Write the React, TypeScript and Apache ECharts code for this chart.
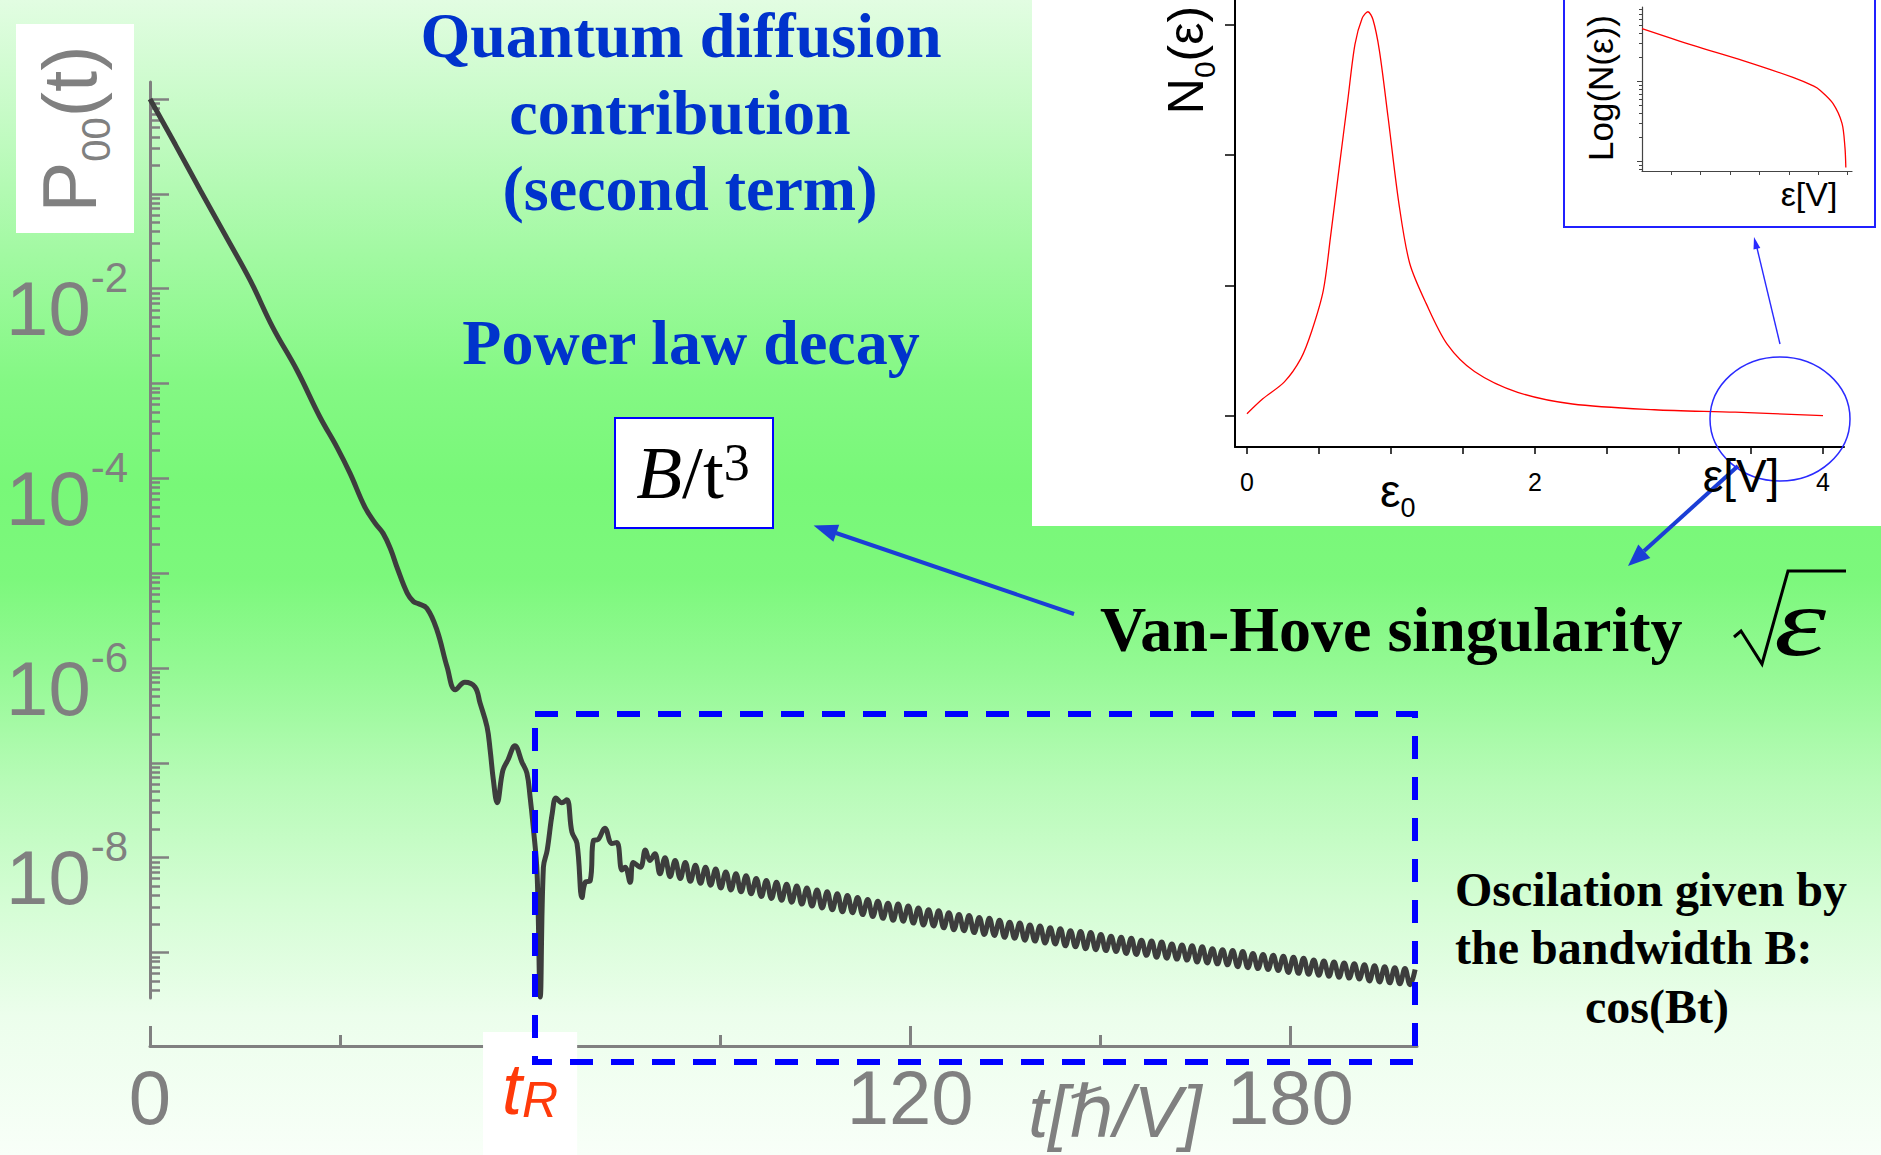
import React, { useEffect, useRef } from "react";
import * as echarts from "echarts";

const GRAY = "#808080";
const SANS = "'Liberation Sans', Arial, Helvetica, 'DejaVu Sans', sans-serif";
const SERIF = "'Liberation Serif', 'Times New Roman', 'DejaVu Serif', serif";
const RED_T = "#ff3a0a";
const TITLE_BLUE = "#0033cc";
const ARROW_BLUE = "#1b3ed6";
const CURVE = "#3d3d3d";

// ---- main curve: t [hbar/V] and log10 P00(t) ----
const earlyT = [
  0, 4, 8, 12, 15.8, 19.4, 23.2, 26.8, 29.5, 31.6, 33.9, 35.5, 36.8, 38.0, 39.0, 40.6, 41.6, 42.3, 43.7, 45.3,
  46.9, 48.2, 49.7, 51.3, 52.1, 53.2, 53.7, 54.2, 54.8, 55.7, 56.5, 57.6, 58.7, 59.5, 60.0, 60.5, 61.1, 61.6, 62.1, 62.7,
  63.5, 64.1, 65.0, 65.8, 66.6, 67.4, 68.2, 68.7, 69.5, 70.0, 70.7, 71.8, 72.9, 73.7, 74.5, 75.0, 75.8, 76.3, 77.4, 78.2,
  78.9, 79.7,
];
const earlyLogP = [
  0, -0.48, -0.97, -1.45, -1.91, -2.41, -2.86, -3.35, -3.67, -3.95, -4.3, -4.47, -4.58, -4.75, -4.94, -5.21, -5.3, -5.32, -5.37, -5.6,
  -5.99, -6.23, -6.15, -6.2, -6.37, -6.62, -6.87, -7.18, -7.42, -7.08, -6.97, -6.82, -6.99, -7.11, -7.36, -7.68, -8.16, -9.47, -8.1, -7.92,
  -7.53, -7.37, -7.42, -7.39, -7.73, -7.85, -8.42, -8.26, -8.24, -7.82, -7.81, -7.69, -7.85, -7.84, -8.13, -8.1, -8.26, -8.05, -8.1, -7.92,
  -8.03, -7.96,
];
const tailT = [
  80.5, 81.3, 82.1, 82.9, 83.7, 84.5, 85.3, 86.1, 86.9, 87.7,
  88.5, 89.3, 90.1, 90.9, 91.7, 92.5, 93.3, 94.1, 94.9, 95.7,
  96.5, 97.3, 98.1, 98.9, 99.7, 100.5, 101.3, 102.1, 102.9, 103.7,
  104.5, 105.3, 106.1, 106.9, 107.7, 108.5, 109.3, 110.1, 110.9, 111.7,
  112.5, 113.3, 114.1, 114.9, 115.7, 116.5, 117.3, 118.1, 118.9, 119.7,
  120.5, 121.3, 122.1, 122.9, 123.7, 124.5, 125.3, 126.1, 126.9, 127.7,
  128.5, 129.3, 130.1, 130.9, 131.7, 132.5, 133.3, 134.1, 134.9, 135.7,
  136.5, 137.3, 138.1, 138.9, 139.7, 140.5, 141.3, 142.1, 142.9, 143.7,
  144.5, 145.3, 146.1, 146.9, 147.7, 148.5, 149.3, 150.1, 150.9, 151.7,
  152.5, 153.3, 154.1, 154.9, 155.7, 156.5, 157.3, 158.1, 158.9, 159.7,
  160.5, 161.3, 162.1, 162.9, 163.7, 164.5, 165.3, 166.1, 166.9, 167.7,
  168.5, 169.3, 170.1, 170.9, 171.7, 172.5, 173.3, 174.1, 174.9, 175.7,
  176.5, 177.3, 178.1, 178.9, 179.7, 180.5, 181.3, 182.1, 182.9, 183.7,
  184.5, 185.3, 186.1, 186.9, 187.7, 188.5, 189.3, 190.1, 190.9, 191.7,
  192.5, 193.3, 194.1, 194.9, 195.7, 196.5, 197.3, 198.1, 198.9, 199.7,
];
const tailLogP = [
  -8.17, -8.0, -8.2, -8.03, -8.22, -8.05, -8.25, -8.08, -8.27, -8.1,
  -8.29, -8.12, -8.32, -8.15, -8.34, -8.17, -8.36, -8.19, -8.38, -8.22,
  -8.41, -8.24, -8.43, -8.26, -8.45, -8.28, -8.47, -8.3, -8.49, -8.32,
  -8.51, -8.34, -8.53, -8.36, -8.55, -8.38, -8.57, -8.4, -8.58, -8.42,
  -8.6, -8.44, -8.62, -8.46, -8.64, -8.48, -8.66, -8.49, -8.67, -8.51,
  -8.69, -8.53, -8.71, -8.55, -8.72, -8.56, -8.74, -8.58, -8.76, -8.6,
  -8.77, -8.61, -8.79, -8.63, -8.81, -8.64, -8.82, -8.66, -8.84, -8.68,
  -8.85, -8.69, -8.87, -8.71, -8.88, -8.72, -8.9, -8.74, -8.91, -8.75,
  -8.93, -8.77, -8.94, -8.78, -8.96, -8.79, -8.97, -8.81, -8.98, -8.83,
  -8.99, -8.84, -9.01, -8.85, -9.02, -8.87, -9.03, -8.88, -9.05, -8.89,
  -9.06, -8.91, -9.07, -8.92, -9.08, -8.93, -9.1, -8.94, -9.11, -8.96,
  -9.12, -8.97, -9.13, -8.98, -9.15, -8.99, -9.16, -9.01, -9.17, -9.02,
  -9.18, -9.03, -9.19, -9.04, -9.21, -9.05, -9.22, -9.06, -9.23, -9.08,
  -9.24, -9.09, -9.25, -9.1, -9.26, -9.11, -9.27, -9.12, -9.28, -9.13,
  -9.3, -9.14, -9.31, -9.15, -9.32, -9.16, -9.33, -9.17, -9.34, -9.18,
];

// main axes
const xLabelValues = [0, 120, 180];
const xMajorTickValues = [0, 120, 180];
const xMinorTickValues = [30, 60, 90, 150];
const tRValue = [60];
const yMajorExps = [0, -1, -2, -3, -4, -5, -6, -7, -8, -9];
const yLabelExps = [-2, -4, -6, -8];

// inset: density of states N0(eps)
const dosEps = [0, 0.11, 0.26, 0.375, 0.45, 0.53, 0.58, 0.64, 0.7, 0.75, 0.8, 0.84, 0.875, 0.92, 0.98, 1.055, 1.13, 1.245, 1.39, 1.58, 1.88, 2.26, 2.83, 3.39, 4.0];
const dosN = [0.015, 0.13, 0.26, 0.44, 0.65, 0.96, 1.37, 1.9, 2.42, 2.85, 3.05, 3.1, 3.04, 2.8, 2.29, 1.63, 1.17, 0.86, 0.55, 0.34, 0.18, 0.09, 0.046, 0.027, 0.0];
const dosTickX = [0, 0.5, 1, 1.5, 2, 2.5, 3, 3.5, 4];
const dosLabelX = [0, 2, 4];
const dosTickY = [0, 1, 2, 3];

// nested inset: log N near band edge
const edgeX = [0, 1.74, 3.44, 5.14, 5.85, 6.06, 6.5, 6.81, 6.91, 6.94];
const edgeLogN = [0.66, 0.45, 0.26, 0.05, -0.06, -0.11, -0.275, -0.525, -0.825, -1.075];
const edgeTickX = [1, 2, 3, 4, 5, 6, 7];
const edgeMajorY = [-1, 0];

function logMinor(lo: number, hi: number): number[] {
  const out: number[] = [];
  for (let n = -11; n <= 1; n++) {
    for (let k = 2; k <= 9; k++) {
      const v = n + Math.log10(k);
      if (v >= lo && v <= hi) out.push(v);
    }
  }
  return out;
}

const MAIN_MIN = -9.48;
const MAIN_MAX = 0.18;

function buildOption(): any {
  const allLog = earlyLogP.concat(tailLogP);
  const mainData = earlyT.concat(tailT).map((t, i) => [t, allLog[i]]);
  const dosData = dosEps.map((e, i) => [e, dosN[i]]);
  const edgeData = edgeX.map((e, i) => [e, edgeLogN[i]]);

  const txt = (x: number, y: number, text: string, s: any, extra: any = {}) => ({
    type: "text",
    x,
    y,
    z: 20,
    ...extra,
    style: {
      text,
      fill: "#000",
      fontFamily: SERIF,
      textAlign: "center",
      align: "center",
      textVerticalAlign: "middle",
      verticalAlign: "middle",
      ...s,
    },
  });

  const arrowHead = (pts: number[][], color: string) => ({
    type: "polygon",
    z: 20,
    shape: { points: pts },
    style: { fill: color },
  });

  const graphics: any[] = [
    // inset backgrounds
    { type: "rect", z: -10, silent: true, shape: { x: 1032, y: 0, width: 849, height: 526 }, style: { fill: "#ffffff" } },
    { type: "rect", z: -9, silent: true, shape: { x: 1564, y: -3, width: 311, height: 230 }, style: { fill: "#ffffff", stroke: "#2020ff", lineWidth: 2 } },
    // P00(t) label
    { type: "rect", z: 5, shape: { x: 16, y: 24, width: 118, height: 209 }, style: { fill: "#ffffff" } },
    txt(69, 129, "{p|P}{s|00}{p|(t)}", {
      fontFamily: SANS,
      fill: GRAY,
      rich: {
        p: { fontSize: 76, lineHeight: 94, fill: GRAY, fontFamily: SANS },
        s: { fontSize: 40, lineHeight: 40, fill: GRAY, fontFamily: SANS, verticalAlign: "bottom" },
      },
    }, { rotation: Math.PI / 2 }),
    // titles
    txt(681, 35, "Quantum diffusion", { fill: TITLE_BLUE, fontSize: 64, fontWeight: "bold" }),
    txt(680, 112, "contribution", { fill: TITLE_BLUE, fontSize: 64, fontWeight: "bold" }),
    txt(690, 188, "(second term)", { fill: TITLE_BLUE, fontSize: 64, fontWeight: "bold" }),
    txt(691, 342, "Power law decay", { fill: TITLE_BLUE, fontSize: 64, fontWeight: "bold" }),
    // B/t^3 box
    { type: "rect", z: 19, shape: { x: 615, y: 418, width: 158, height: 110 }, style: { fill: "#ffffff", stroke: "#0000ff", lineWidth: 2 } },
    txt(693, 472, "{i|B}{r|/t}{s|3}", {
      rich: {
        i: { fontSize: 75, lineHeight: 72, fontStyle: "italic", fontFamily: SERIF, fill: "#000" },
        r: { fontSize: 75, lineHeight: 72, fontFamily: SERIF, fill: "#000" },
        s: { fontSize: 52, lineHeight: 48, fontFamily: SERIF, fill: "#000", verticalAlign: "top" },
      },
    }),
    // Van-Hove
    txt(1100, 629, "Van-Hove singularity", { fontSize: 64, fontWeight: "bold", textAlign: "left", align: "left" }),
    {
      type: "polyline",
      z: 20,
      shape: { points: [[1734, 637], [1741, 631], [1762, 664], [1788, 571], [1846, 571]] },
      style: { stroke: "#000", lineWidth: 3, fill: "none" },
    },
    txt(1800, 622, "ε", { fontSize: 98, fontStyle: "italic" }, { scaleX: 1.35 }),
    // oscillation text
    txt(1455, 889, "Oscilation given by", { fontSize: 48, fontWeight: "bold", textAlign: "left", align: "left" }),
    txt(1455, 947, "the bandwidth B:", { fontSize: 48, fontWeight: "bold", textAlign: "left", align: "left" }),
    txt(1657, 1006, "cos(Bt)", { fontSize: 48, fontWeight: "bold" }),
    // x-axis name
    txt(1115, 1112, "t[ℏ/V]", { fontSize: 72, fontStyle: "italic", fontFamily: SANS, fill: GRAY }),
    // dashed window
    {
      type: "rect",
      z: 10,
      shape: { x: 535, y: 714, width: 880, height: 348 },
      style: { fill: "none", stroke: "#0000ff", lineWidth: 6, lineDash: [23, 18] },
    },
    // arrow to B/t^3
    { type: "line", z: 20, shape: { x1: 1074, y1: 614, x2: 836, y2: 533 }, style: { stroke: ARROW_BLUE, lineWidth: 4 } },
    arrowHead([[813.6, 525.6], [839.2, 524.8], [833.4, 541.8]], ARROW_BLUE),
    // arrow from inset towards Van-Hove
    { type: "line", z: 20, shape: { x1: 1738, y1: 466, x2: 1644, y2: 551 }, style: { stroke: ARROW_BLUE, lineWidth: 4 } },
    arrowHead([[1628, 566], [1650.3, 558], [1638.3, 544.6]], ARROW_BLUE),
    // ellipse and thin arrow
    { type: "ellipse", z: 20, shape: { cx: 1780, cy: 419, rx: 70, ry: 62 }, style: { fill: "none", stroke: "#2a2aff", lineWidth: 1.5 } },
    { type: "line", z: 20, shape: { x1: 1780, y1: 344, x2: 1757, y2: 248 }, style: { stroke: "#2a2aff", lineWidth: 1.4 } },
    arrowHead([[1754, 237], [1760.3, 248], [1753.5, 249.5]], "#2a2aff"),
    // inset texts
    txt(1186, 60, "{n|N}{s|0}{n|(ε)}", {
      fontFamily: SANS,
      rich: {
        n: { fontSize: 50, lineHeight: 66, fontFamily: SANS, fill: "#000" },
        s: { fontSize: 30, lineHeight: 30, fontFamily: SANS, fill: "#000", verticalAlign: "bottom" },
      },
    }, { rotation: Math.PI / 2 }),
    txt(1380, 491, "{e|ε}{s|0}", {
      textAlign: "left",
      align: "left",
      fontFamily: SANS,
      rich: {
        e: { fontSize: 46, lineHeight: 60, fontFamily: SANS, fill: "#000" },
        s: { fontSize: 27, lineHeight: 27, fontFamily: SANS, fill: "#000", verticalAlign: "bottom" },
      },
    }),
    txt(1741, 476, "ε[V]", { fontSize: 46, fontFamily: SANS }),
    txt(1600, 88, "Log(N(ε))", { fontSize: 35, fontFamily: SANS }, { rotation: Math.PI / 2 }),
    txt(1809, 194, "ε[V]", { fontSize: 34, fontFamily: SANS }),
  ];

  const noSplit = { show: false };

  return {
    animation: false,
    backgroundColor: "transparent",
    grid: [
      { left: 150, top: 82, width: 1267, height: 916, outerBoundsMode: "none", containLabel: false },
      { left: 1235, top: 0, width: 609, height: 447, outerBoundsMode: "none", containLabel: false },
      { left: 1642, top: 7, width: 210, height: 164, outerBoundsMode: "none", containLabel: false },
    ],
    xAxis: [
      {
        gridIndex: 0,
        type: "value",
        position: "bottom",
        min: 0,
        max: 200,
        offset: 48,
        axisLine: { show: true, onZero: false, lineStyle: { color: GRAY, width: 3 } },
        axisTick: { show: true, customValues: xMinorTickValues, inside: true, length: 11, lineStyle: { color: GRAY, width: 3 } },
        axisLabel: { show: true, customValues: xLabelValues, color: GRAY, fontSize: 76, fontFamily: SANS, margin: 13 },
        splitLine: noSplit,
      },
      {
        gridIndex: 0,
        type: "value",
        position: "bottom",
        min: 0,
        max: 200,
        offset: 48,
        z: 1,
        axisLine: { show: false, onZero: false },
        axisTick: { show: true, customValues: xMajorTickValues, inside: true, length: 20, lineStyle: { color: GRAY, width: 3 } },
        axisLabel: {
          show: true,
          customValues: tRValue,
          formatter: () => "{t|t}{r|R}",
          margin: -14,
          backgroundColor: "#ffffff",
          padding: [21, 19, 34, 19],
          rich: {
            t: { fontSize: 72, lineHeight: 72, fontStyle: "italic", fontFamily: SANS, color: RED_T, verticalAlign: "top" },
            r: { fontSize: 50, lineHeight: 50, fontStyle: "italic", fontFamily: SANS, color: RED_T, verticalAlign: "bottom", padding: [38, 0, 0, 0] },
          },
        },
        splitLine: noSplit,
      },
      {
        gridIndex: 1,
        type: "value",
        position: "bottom",
        min: -0.083,
        max: 4.146,
        axisLine: { show: true, onZero: false, lineStyle: { color: "#000", width: 2 } },
        axisTick: { show: true, customValues: dosTickX, inside: false, length: 7, lineStyle: { color: "#000", width: 1.5 } },
        axisLabel: { show: true, customValues: dosLabelX, color: "#000", fontSize: 25, fontFamily: SANS, margin: 22 },
        splitLine: noSplit,
      },
      {
        gridIndex: 2,
        type: "value",
        position: "bottom",
        min: 0,
        max: 7.15,
        axisLine: { show: true, onZero: false, lineStyle: { color: "#444", width: 1.2 } },
        axisTick: { show: true, customValues: edgeTickX, inside: false, length: 4, lineStyle: { color: "#444", width: 1 } },
        axisLabel: { show: false },
        splitLine: noSplit,
      },
    ],
    yAxis: [
      {
        gridIndex: 0,
        type: "value",
        position: "left",
        min: MAIN_MIN,
        max: MAIN_MAX,
        axisLine: { show: true, onZero: false, lineStyle: { color: GRAY, width: 3 } },
        axisTick: { show: true, customValues: yMajorExps, inside: true, length: 19, lineStyle: { color: GRAY, width: 2.5 } },
        axisLabel: {
          show: true,
          customValues: yLabelExps,
          formatter: (v: number) => `{b|10}{s|${Math.round(v)}}`,
          margin: 22,
          padding: [40, 0, 0, 0],
          rich: {
            b: { fontSize: 76, lineHeight: 104, color: GRAY, fontFamily: SANS },
            s: { fontSize: 42, lineHeight: 42, color: GRAY, fontFamily: SANS, verticalAlign: "top" },
          },
        },
        splitLine: noSplit,
      },
      {
        gridIndex: 0,
        type: "value",
        position: "left",
        min: MAIN_MIN,
        max: MAIN_MAX,
        axisLine: { show: false, onZero: false },
        axisTick: { show: true, customValues: logMinor(MAIN_MIN, MAIN_MAX), inside: true, length: 10, lineStyle: { color: GRAY, width: 2.5 } },
        axisLabel: { show: false },
        splitLine: noSplit,
      },
      {
        gridIndex: 1,
        type: "value",
        position: "left",
        min: -0.24,
        max: 3.19,
        axisLine: { show: true, onZero: false, lineStyle: { color: "#000", width: 2 } },
        axisTick: { show: true, customValues: dosTickY, inside: false, length: 10, lineStyle: { color: "#000", width: 1.5 } },
        axisLabel: { show: false },
        splitLine: noSplit,
      },
      {
        gridIndex: 2,
        type: "value",
        position: "left",
        min: -1.12,
        max: 0.93,
        axisLine: { show: true, onZero: false, lineStyle: { color: "#444", width: 1.2 } },
        axisTick: { show: true, customValues: edgeMajorY, inside: false, length: 5, lineStyle: { color: "#444", width: 1 } },
        axisLabel: { show: false },
        splitLine: noSplit,
      },
      {
        gridIndex: 2,
        type: "value",
        position: "left",
        min: -1.12,
        max: 0.93,
        axisLine: { show: false, onZero: false },
        axisTick: { show: true, customValues: logMinor(-1.12, 0.93), inside: false, length: 3, lineStyle: { color: "#444", width: 1 } },
        axisLabel: { show: false },
        splitLine: noSplit,
      },
    ],
    series: [
      {
        type: "line",
        xAxisIndex: 0,
        yAxisIndex: 0,
        data: mainData,
        showSymbol: false,
        symbol: "none",
        smooth: 0.4,
        lineStyle: { color: CURVE, width: 5 },
        z: 5,
      },
      {
        type: "line",
        xAxisIndex: 2,
        yAxisIndex: 2,
        data: dosData,
        symbol: "none",
        smooth: 0.3,
        lineStyle: { color: "#ff0000", width: 1.3 },
      },
      {
        type: "line",
        xAxisIndex: 3,
        yAxisIndex: 3,
        data: edgeData,
        symbol: "none",
        smooth: 0.3,
        lineStyle: { color: "#ff0000", width: 1.3 },
      },
    ],
    graphic: { elements: graphics },
  };
}

export default function App() {
  const ref = useRef<HTMLDivElement>(null);
  useEffect(() => {
    if (!ref.current) return;
    const chart = echarts.init(ref.current, null, { renderer: "svg" });
    chart.setOption(buildOption());
    return () => chart.dispose();
  }, []);
  return (
    <div
      ref={ref}
      style={{
        position: "fixed",
        left: 0,
        top: 0,
        width: 1881,
        height: 1155,
        background:
          "linear-gradient(to bottom, #e2fde2 0%, #c6fbc6 10%, #a2f9a2 22%, #84f884 33%, #78f878 42%, #7cf87c 50%, #94f994 58%, #b8fbb8 68%, #d4fdd4 78%, #ecfeec 88%, #f8fff8 100%)",
      }}
    />
  );
}
